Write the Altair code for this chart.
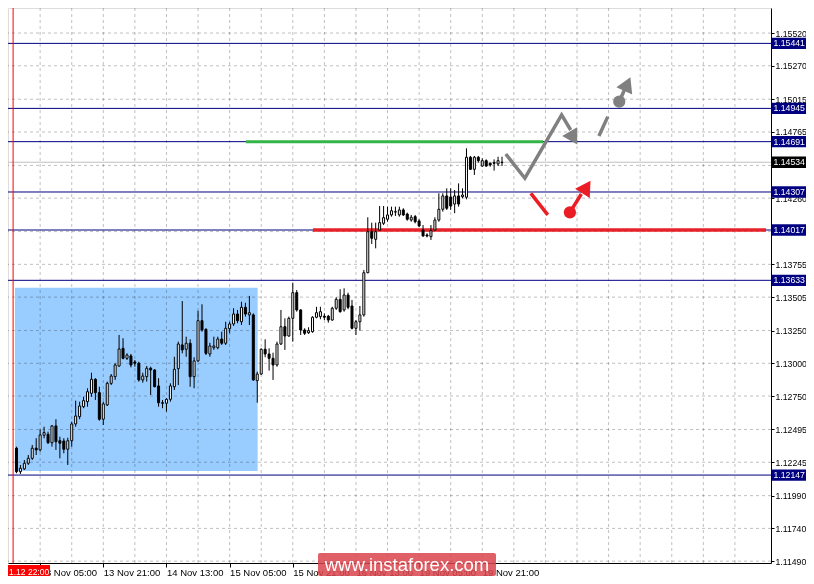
import altair as alt
import pandas as pd

# ---------------- data ----------------
opens = [1.12415, 1.12400, 1.12352, 1.12173, 1.12194, 1.12237, 1.12275, 1.12352, 1.12339, 1.12451,
         1.12458, 1.12394, 1.12522, 1.12409, 1.12407, 1.12344, 1.12409, 1.12537, 1.12593, 1.12669,
         1.12707, 1.12771, 1.12878, 1.12776, 1.12573, 1.12682, 1.12847, 1.12898, 1.12979, 1.13114,
         1.13038, 1.13056, 1.13010, 1.13000, 1.12873, 1.12898, 1.12962, 1.12949, 1.12827, 1.12699,
         1.12695, 1.12725, 1.12821, 1.12959, 1.13140, 1.13107, 1.13153, 1.12898, 1.13018, 1.13325,
         1.13259, 1.13071, 1.13119, 1.13119, 1.13185, 1.13153, 1.13264, 1.13300, 1.13376, 1.13317,
         1.13427, 1.13369, 1.13369, 1.12867, 1.12918, 1.13107, 1.13071, 1.13038, 1.12987, 1.13147,
         1.13279, 1.13208, 1.13343, 1.13539, 1.13407, 1.13254, 1.13233, 1.13241, 1.13351, 1.13356,
         1.13359, 1.13359, 1.13330, 1.13420, 1.13488, 1.13407, 1.13521, 1.13437, 1.13267, 1.13317,
         1.13369, 1.13691, 1.14004, 1.13946, 1.14017, 1.14068, 1.14099, 1.14132, 1.14156, 1.14132,
         1.14170, 1.14139, 1.14093, 1.14119, 1.14086, 1.14017, 1.13979, 1.13966, 1.14017, 1.14093,
         1.14175, 1.14277, 1.14269, 1.14215, 1.14277, 1.14271, 1.14267, 1.14572, 1.14480, 1.14572,
         1.14505, 1.14546, 1.14526, 1.14531, 1.14521, 1.14531]
highs = [1.12448, 1.12428, 1.12364, 1.12224, 1.12262, 1.12300, 1.12377, 1.12428, 1.12496, 1.12516,
         1.12478, 1.12529, 1.12573, 1.12440, 1.12428, 1.12432, 1.12554, 1.12715, 1.12707, 1.12745,
         1.12809, 1.12928, 1.12886, 1.12821, 1.12707, 1.12860, 1.12918, 1.13000, 1.13216, 1.13191,
         1.13076, 1.13071, 1.13025, 1.13012, 1.12928, 1.12979, 1.12974, 1.12954, 1.12886, 1.12720,
         1.12733, 1.12847, 1.13050, 1.13165, 1.13475, 1.13203, 1.13183, 1.13046, 1.13401, 1.13450,
         1.13267, 1.13157, 1.13203, 1.13203, 1.13241, 1.13317, 1.13317, 1.13420, 1.13407, 1.13470,
         1.13462, 1.13514, 1.13381, 1.12936, 1.13114, 1.13183, 1.13114, 1.13081, 1.13165, 1.13407,
         1.13343, 1.13356, 1.13615, 1.13559, 1.13412, 1.13267, 1.13275, 1.13359, 1.13431, 1.13431,
         1.13381, 1.13369, 1.13431, 1.13504, 1.13565, 1.13572, 1.13539, 1.13483, 1.13330, 1.13437,
         1.13712, 1.14114, 1.14073, 1.14073, 1.14200, 1.14200, 1.14195, 1.14195, 1.14195, 1.14195,
         1.14183, 1.14149, 1.14132, 1.14132, 1.14099, 1.14055, 1.13992, 1.14055, 1.14114, 1.14297,
         1.14297, 1.14335, 1.14335, 1.14322, 1.14373, 1.14335, 1.14640, 1.14582, 1.14582, 1.14582,
         1.14564, 1.14556, 1.14531, 1.14556, 1.14576, 1.14576]
lows = [1.12377, 1.12339, 1.12161, 1.12155, 1.12186, 1.12224, 1.12262, 1.12300, 1.12326, 1.12428,
        1.12384, 1.12364, 1.12339, 1.12275, 1.12313, 1.12224, 1.12364, 1.12516, 1.12573, 1.12657,
        1.12669, 1.12745, 1.12720, 1.12562, 1.12529, 1.12674, 1.12834, 1.12873, 1.12974, 1.13030,
        1.13025, 1.12969, 1.12974, 1.12860, 1.12852, 1.12860, 1.12758, 1.12817, 1.12669, 1.12657,
        1.12631, 1.12707, 1.12796, 1.12834, 1.13076, 1.13050, 1.12821, 1.12809, 1.13012, 1.13241,
        1.13063, 1.13050, 1.13102, 1.13107, 1.13140, 1.13140, 1.13229, 1.13285, 1.13305, 1.13292,
        1.13356, 1.13292, 1.12867, 1.12699, 1.12911, 1.13046, 1.12944, 1.12873, 1.12974, 1.13140,
        1.13102, 1.13203, 1.13165, 1.13394, 1.13216, 1.13216, 1.13224, 1.13233, 1.13343, 1.13336,
        1.13330, 1.13310, 1.13325, 1.13407, 1.13386, 1.13394, 1.13412, 1.13259, 1.13216, 1.13249,
        1.13356, 1.13687, 1.13910, 1.13877, 1.14012, 1.14055, 1.14080, 1.14119, 1.14124, 1.14119,
        1.14124, 1.14088, 1.14080, 1.14068, 1.14038, 1.13966, 1.13961, 1.13941, 1.14012, 1.14080,
        1.14157, 1.14170, 1.14170, 1.14145, 1.14195, 1.14259, 1.14251, 1.14475, 1.14437, 1.14531,
        1.14500, 1.14500, 1.14500, 1.14470, 1.14505, 1.14505]
closes = [1.12394, 1.12352, 1.12173, 1.12199, 1.12237, 1.12275, 1.12352, 1.12339, 1.12453, 1.12471,
          1.12394, 1.12522, 1.12402, 1.12390, 1.12344, 1.12409, 1.12537, 1.12598, 1.12674, 1.12715,
          1.12783, 1.12878, 1.12776, 1.12573, 1.12690, 1.12847, 1.12903, 1.12987, 1.13109, 1.13038,
          1.13063, 1.12987, 1.13000, 1.12873, 1.12903, 1.12962, 1.12949, 1.12821, 1.12699, 1.12695,
          1.12725, 1.12827, 1.12954, 1.13147, 1.13102, 1.13153, 1.12898, 1.13018, 1.13325, 1.13254,
          1.13076, 1.13132, 1.13132, 1.13185, 1.13153, 1.13267, 1.13300, 1.13376, 1.13325, 1.13427,
          1.13376, 1.13386, 1.12873, 1.12918, 1.13107, 1.13071, 1.13038, 1.12987, 1.13147, 1.13279,
          1.13208, 1.13343, 1.13539, 1.13407, 1.13254, 1.13229, 1.13249, 1.13351, 1.13386, 1.13394,
          1.13351, 1.13330, 1.13420, 1.13488, 1.13394, 1.13521, 1.13427, 1.13267, 1.13317, 1.13369,
          1.13691, 1.14004, 1.13954, 1.14004, 1.14073, 1.14111, 1.14132, 1.14164, 1.14154, 1.14170,
          1.14132, 1.14099, 1.14114, 1.14080, 1.14048, 1.13971, 1.13971, 1.14012, 1.14093, 1.14175,
          1.14277, 1.14183, 1.14200, 1.14277, 1.14215, 1.14284, 1.14572, 1.14480, 1.14572, 1.14546,
          1.14546, 1.14505, 1.14513, 1.14526, 1.14546, 1.14534]

grid_prices = [1.15520, 1.15270, 1.15015, 1.14765, 1.14510, 1.14260, 1.14005, 1.13755, 1.13505,
               1.13250, 1.13000, 1.12750, 1.12495, 1.12245, 1.11990, 1.11740, 1.11490]
# tick labels that stay visible (1.14510 and 1.14005 sit under the level boxes)
y_tick_labels = [1.15520, 1.15270, 1.15015, 1.14765, 1.14260, 1.13755, 1.13505,
                 1.13250, 1.13000, 1.12750, 1.12495, 1.12245, 1.11990, 1.11740, 1.11490]
x_tick_idx = [8, 24, 40, 56, 72, 88, 104, 120]
x_tick_labels = ["13 Nov 05:00", "13 Nov 21:00", "14 Nov 13:00", "15 Nov 05:00",
                 "15 Nov 21:00", "16 Nov 13:00", "19 Nov 05:00", "19 Nov 21:00"]
v_grid_idx = list(range(8, 185, 8))

levels = [1.15441, 1.14945, 1.14691, 1.14307, 1.14017, 1.13633, 1.12147]
current_price = 1.14534
marker_line_idx = 1.15
marker_line_label = "1.12 22:00"

zone = {"x1": 1.625, "x2": 63.1, "y1": 1.13577, "y2": 1.12178}
green_seg = {"x1": 60.1, "x2": 135.4, "y": 1.14691}
red_seg = {"x1": 77.1, "x2": 191.875, "y": 1.14017}

gray_path_idx = [125.95, 130.8, 140.1, 142.4]
gray_path_price = [1.14597, 1.14412, 1.14895, 1.14780]
seg_x1 = [149.55, 154.7, 132.3, 142.2]
seg_x2 = [151.8, 156.1, 136.6, 145.1]
seg_y1 = [1.14734, 1.14996, 1.14297, 1.14152]
seg_y2 = [1.14882, 1.15093, 1.14132, 1.14292]
seg_col = ["gray", "gray", "red", "red"]
dot_idx = [154.7, 142.2]
dot_price = [1.14996, 1.14152]
dot_col = ["gray", "red"]
head_idx = [143.1, 156.75, 146.4]
head_price = [1.14719, 1.15131, 1.14345]
head_angle = [149.5, 24.0, 32.5]
head_col = ["gray", "gray", "red"]

# ---------------- chart ----------------
XDOM = [1.125, 191.875]
YDOM = [1.11476, 1.15711]
FONT = "Liberation Sans"

label_expr = " : ".join(
    f"datum.value == {i} ? '{t}'" for i, t in zip(x_tick_idx, x_tick_labels)) + " : ''"

x_axis = alt.Axis(values=x_tick_idx, labelExpr=label_expr, orient="bottom", grid=False,
                  domainColor="black", tickColor="black", tickSize=4, labelAlign="left",
                  labelBaseline="top", labelPadding=0, labelFont=FONT, labelFontSize=9.5,
                  labelColor="black", labelFlush=False, labelOverlap=False, title=None)
y_axis = alt.Axis(values=y_tick_labels, format=".5f", orient="right", grid=False,
                  domainColor="black", tickColor="black", tickSize=3, labelPadding=1,
                  labelFont=FONT, labelFontSize=8.7, labelColor="black",
                  labelFlush=False, labelOverlap=False, title=None)

xs = alt.Scale(domain=XDOM, nice=False, zero=False)
ys = alt.Scale(domain=YDOM, nice=False, zero=False)


def X(f):
    return alt.X(f, type="quantitative", scale=xs, axis=x_axis)


def Y(f):
    return alt.Y(f, type="quantitative", scale=ys, axis=y_axis)


candles = pd.DataFrame({"idx": list(range(len(opens))), "open": opens, "high": highs,
                        "low": lows, "close": closes})
candles = candles[candles["idx"] >= 2]

zone_l = alt.Chart(pd.DataFrame([zone])).mark_rect(color="#99CCFF").encode(
    x=X("x1"), x2="x2", y=Y("y1"), y2="y2")

hgrid = alt.Chart(pd.DataFrame({"v": grid_prices})).mark_rule(
    color="#C0C0C0", strokeDash=[3, 3], blend="multiply").encode(y=Y("v"))
vgrid = alt.Chart(pd.DataFrame({"i": v_grid_idx})).mark_rule(
    color="#C0C0C0", strokeDash=[3, 3], blend="multiply").encode(x=X("i"))

cur_line = alt.Chart(pd.DataFrame({"v": [current_price]})).mark_rule(
    color="#C0C0C0").encode(y=Y("v"))
lvl_lines = alt.Chart(pd.DataFrame({"v": levels})).mark_rule(
    color="#000080").encode(y=Y("v"))
vline = alt.Chart(pd.DataFrame({"i": [marker_line_idx]})).mark_rule(
    color="#FF0000").encode(x=X("i"))

green_l = alt.Chart(pd.DataFrame([green_seg])).mark_rule(
    color="#35B44A", strokeWidth=3).encode(x=X("x1"), x2="x2", y=Y("y"))
red_l = alt.Chart(pd.DataFrame([red_seg])).mark_rule(
    color="#E8202A", strokeWidth=3.5).encode(x=X("x1"), x2="x2", y=Y("y"))

wicks = alt.Chart(candles).mark_rule(color="black", strokeWidth=1).encode(
    x=X("idx"), y=Y("low"), y2="high")
bodies = alt.Chart(candles).mark_bar(width=2, stroke="black", strokeWidth=1).encode(
    x=X("idx"), y=Y("open"), y2="close",
    fill=alt.condition("datum.close >= datum.open", alt.value("white"), alt.value("black")))

colscale = alt.Scale(domain=["gray", "red"], range=["#808080", "#EC1C24"])

gpath = alt.Chart(pd.DataFrame({"i": gray_path_idx, "p": gray_path_price,
                                "o": list(range(len(gray_path_idx)))})).mark_line(
    color="#808080", strokeWidth=3.5, strokeJoin="miter").encode(
    x=X("i"), y=Y("p"), order="o:Q")
segs = alt.Chart(pd.DataFrame({"x1": seg_x1, "x2": seg_x2, "y1": seg_y1, "y2": seg_y2,
                               "c": seg_col})).mark_rule(strokeWidth=3.5).encode(
    x=X("x1"), x2="x2", y=Y("y1"), y2="y2",
    color=alt.Color("c:N", scale=colscale, legend=None))
dots = alt.Chart(pd.DataFrame({"i": dot_idx, "p": dot_price, "c": dot_col})).mark_circle(
    size=150, opacity=1).encode(
    x=X("i"), y=Y("p"), color=alt.Color("c:N", scale=colscale, legend=None))
heads = alt.Chart(pd.DataFrame({"i": head_idx, "p": head_price, "a": head_angle,
                                "c": head_col})).mark_point(
    shape="triangle-up", filled=True, size=300, opacity=1).encode(
    x=X("i"), y=Y("p"), angle=alt.Angle("a:Q", scale=None),
    color=alt.Color("c:N", scale=colscale, legend=None))

box_df = pd.DataFrame({"v": levels + [current_price],
                       "kind": ["lvl"] * len(levels) + ["cur"]})
boxes = alt.Chart(box_df).transform_calculate(
    top="datum.v + 0.00043", bot="datum.v - 0.00043").mark_rect().encode(
    x=alt.value(764), x2=alt.value(798), y=Y("top:Q"), y2="bot:Q",
    fill=alt.Fill("kind:N", scale=alt.Scale(domain=["lvl", "cur"],
                                           range=["#000080", "#000000"]), legend=None))
box_txt = alt.Chart(box_df).transform_calculate(
    label="format(datum.v, '.5f')").mark_text(
    align="left", baseline="middle", font=FONT, fontSize=8.7, color="white").encode(
    x=alt.value(765.5), y=Y("v"), text="label:N")

tag_bg = alt.Chart(pd.DataFrame({"t": [marker_line_label]})).mark_rect(color="#FF0000").encode(
    x=alt.value(0), x2=alt.value(42), y=alt.value(557), y2=alt.value(570))
tag_txt = alt.Chart(pd.DataFrame({"t": [marker_line_label]})).mark_text(
    align="left", baseline="middle", font=FONT, fontSize=8.5, color="white").encode(
    x=alt.value(1), y=alt.value(563.5), text="t:N")

wm_bg = alt.Chart(pd.DataFrame({"t": ["www.instaforex.com"]})).mark_rect(
    color="#D9444C", opacity=0.85, cornerRadius=2).encode(
    x=alt.value(310), x2=alt.value(488), y=alt.value(545), y2=alt.value(568))
wm_txt = alt.Chart(pd.DataFrame({"t": ["www.instaforex.com"]})).mark_text(
    align="center", baseline="middle", font=FONT, fontSize=18.5, color="white").encode(
    x=alt.value(399), y=alt.value(557), text="t:N")

chart = alt.layer(
    zone_l, hgrid, vgrid, cur_line, lvl_lines, vline, green_l, red_l,
    wicks, bodies, gpath, segs, dots, heads, boxes, box_txt, tag_bg, tag_txt, wm_bg, wm_txt
).properties(
    width=763, height=555, autosize="none",
    padding={"left": 0, "top": 0, "right": 35, "bottom": 13}
).configure_view(stroke=None).configure(background="white")

chart.save("out.html", embed_options={"renderer": "svg", "actions": False})
